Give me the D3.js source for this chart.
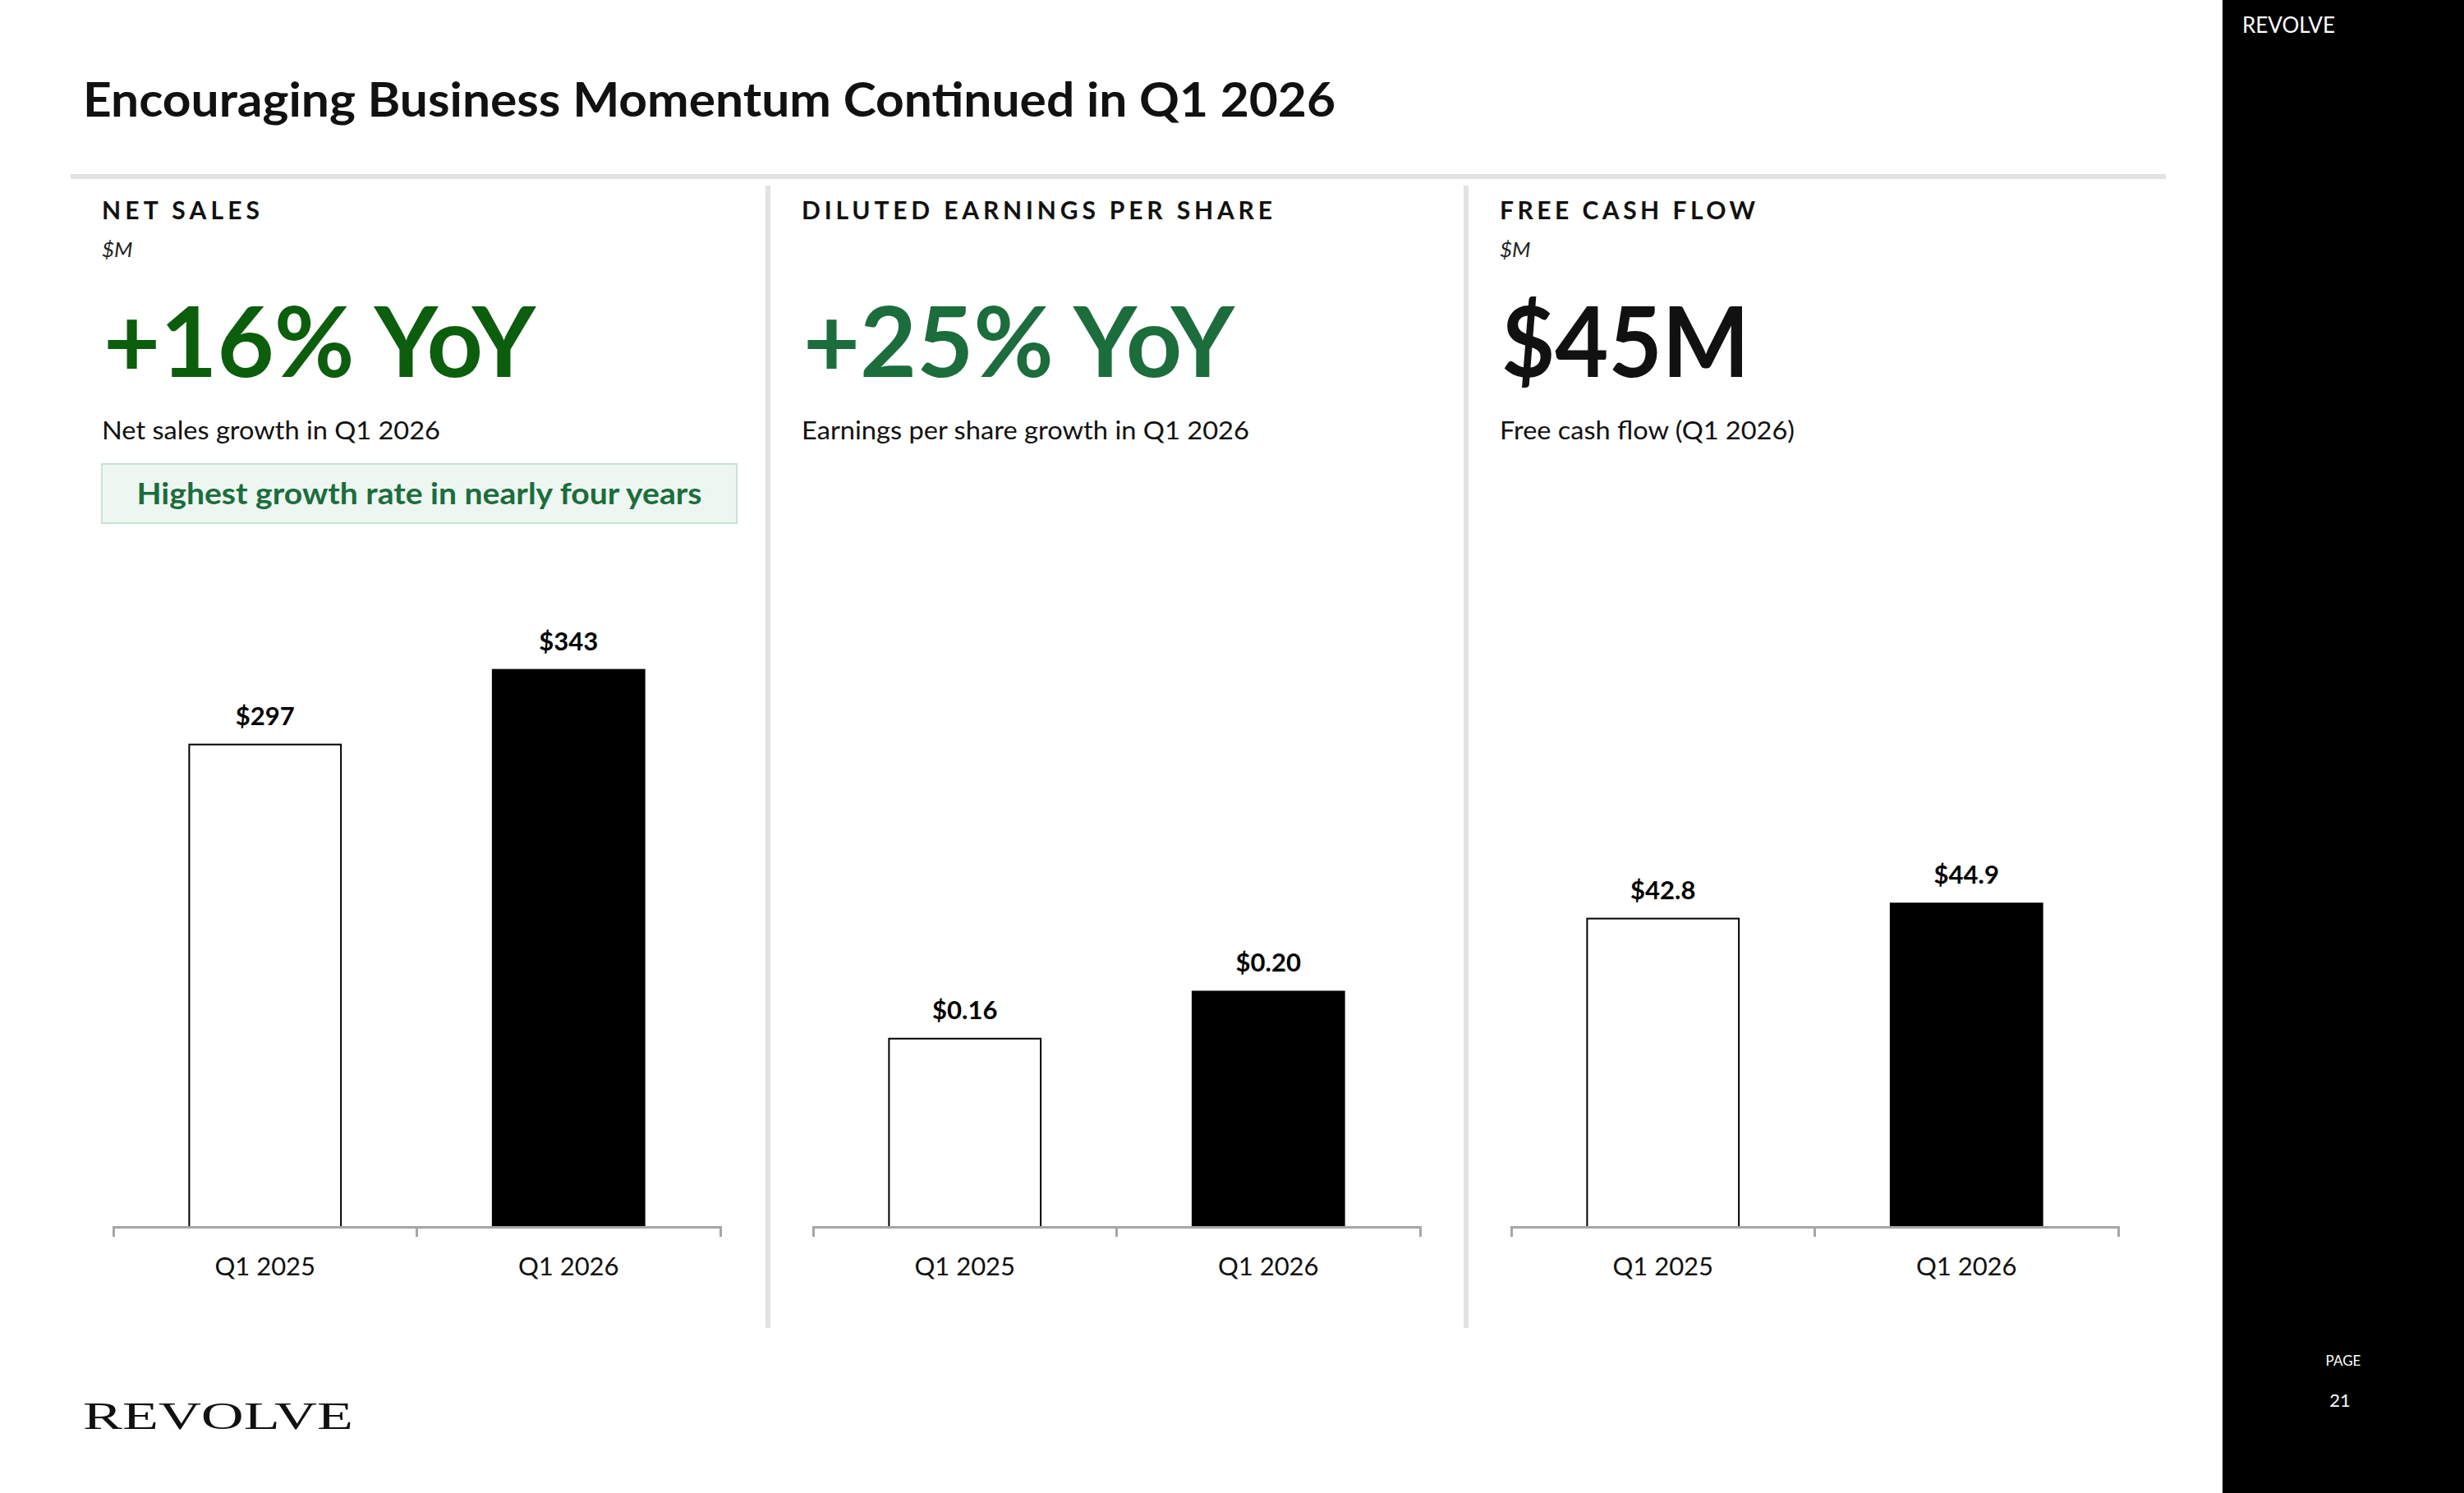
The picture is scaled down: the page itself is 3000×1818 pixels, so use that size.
<!DOCTYPE html>
<html>
<head>
<meta charset="utf-8">
<script src="https://cdn.jsdelivr.net/npm/d3@7"></script>
<style>
  body { margin: 0; background: #fff; }
  text { font-family: Lato, "Open Sans", sans-serif; }
</style>
</head>
<body>
<div id="chart-area"></div>
<script>

var width = 3000,
    height = 1818;

// data
var categories = ["Q1 2025", "Q1 2026"];
var netSales = [297, 343];
var dilutedEps = [0.16, 0.20];
var freeCashFlow = [42.8, 44.9];

var netSalesLabels = ["$297", "$343"];
var epsLabels = ["$0.16", "$0.20"];
var fcfLabels = ["$42.8", "$44.9"];

var panelTitles = ["NET SALES", "DILUTED EARNINGS PER SHARE", "FREE CASH FLOW"];
var panelUnits = ["$M", "", "$M"];
var headlines = ["+16% YoY", "+25% YoY", "$45M"];
var subtitles = ["Net sales growth in Q1 2026", "Earnings per share growth in Q1 2026", "Free cash flow (Q1 2026)"];
var yMax = [404.5, 0.5583, 91.2];   // axis maximum of each panel

var panels = [
  { values: netSales, labels: netSalesLabels },
  { values: dilutedEps, labels: epsLabels },
  { values: freeCashFlow, labels: fcfLabels }
];

var svg = d3.select("#chart-area").append("svg")
    .attr("width", width)
    .attr("height", height);

svg.append("rect").attr("width", width).attr("height", height).attr("fill", "#fff");

// right black strip
svg.append("rect")
    .attr("x", 2706).attr("y", 0)
    .attr("width", width - 2706).attr("height", height)
    .attr("fill", "#000");

svg.append("text").attr("x", 2730).attr("y", 40)
    .attr("fill", "#fff").style("font-size", "27px")
    .attr("textLength", 113).attr("lengthAdjust", "spacingAndGlyphs")
    .text("REVOLVE");

svg.append("text").attr("x", 2853).attr("y", 1663)
    .attr("fill", "#fff").attr("text-anchor", "middle").style("font-size", "17px")
    .text("PAGE");

svg.append("text").attr("x", 2849).attr("y", 1713)
    .attr("fill", "#fff").attr("text-anchor", "middle").style("font-size", "22px")
    .text("21");

// logo bottom left
svg.append("text").attr("x", 101).attr("y", 1740)
    .attr("fill", "#111")
    .attr("textLength", 329).attr("lengthAdjust", "spacingAndGlyphs")
    .style("font-family", "'Liberation Serif', 'DejaVu Serif', serif")
    .style("font-size", "46px")
    .text("REVOLVE");

// title
svg.append("text").attr("x", 101).attr("y", 142)
    .attr("fill", "#111")
    .attr("textLength", 1525).attr("lengthAdjust", "spacingAndGlyphs")
    .style("font-size", "58px").style("font-weight", "bold")
    .text("Encouraging Business Momentum Continued in Q1 2026");

// top rule
svg.append("rect")
    .attr("x", 86).attr("y", 212)
    .attr("width", 2637 - 86).attr("height", 6)
    .attr("fill", "#e2e2e2");

// vertical dividers
[935, 1785].forEach(function(x) {
  svg.append("rect")
      .attr("x", x - 3).attr("y", 226)
      .attr("width", 6).attr("height", 1617 - 226)
      .attr("fill", "#e2e2e2");
});

var panelX = [124, 976, 1826];
var titleWidths = [192, 573, 311];
var headWidths = [526, 525, 302];
var subWidths = [412, 545, 359];
var headColors = ["#0b5e0b", "#1b6e3c", "#111111"];

var baseline = 1494,
    plotTop = 694,
    axisWidth = 739;

panels.forEach(function(p, i) {
  var g = svg.append("g");
  var px = panelX[i];

  g.append("text").attr("x", px).attr("y", 267)
      .attr("fill", "#111")
      .attr("textLength", titleWidths[i]).attr("lengthAdjust", "spacing")
      .style("font-size", "30px").style("font-weight", "bold")
      .text(panelTitles[i]);

  if (panelUnits[i]) {
    g.append("text").attr("x", px).attr("y", 313)
        .attr("fill", "#222")
        .style("font-size", "26px").style("font-style", "italic")
        .text(panelUnits[i]);
  }

  g.append("text").attr("x", px + 2).attr("y", 459)
      .attr("fill", headColors[i])
      .attr("textLength", headWidths[i]).attr("lengthAdjust", "spacingAndGlyphs")
      .style("font-size", "118px").style("font-weight", "bold")
      .text(headlines[i]);

  g.append("text").attr("x", px).attr("y", 535)
      .attr("fill", "#111")
      .attr("textLength", subWidths[i]).attr("lengthAdjust", "spacingAndGlyphs")
      .style("font-size", "31px")
      .text(subtitles[i]);

  // scales
  var x0 = px + 14;
  var x = d3.scaleBand()
      .domain(categories)
      .range([x0, x0 + axisWidth])
      .paddingInner(0.5)
      .paddingOuter(0.25);

  var y = d3.scaleLinear()
      .domain([0, yMax[i]])
      .range([baseline, plotTop]);

  g.selectAll(".bar")
      .data(p.values)
      .enter()
      .append("rect")
      .attr("class", "bar")
      .attr("x", (d, j) => x(categories[j]))
      .attr("y", d => y(d))
      .attr("width", x.bandwidth())
      .attr("height", d => baseline - y(d))
      .attr("fill", (d, j) => j == 0 ? "#fff" : "#000")
      .attr("stroke", "#000")
      .attr("stroke-width", 2);

  g.selectAll(".val")
      .data(p.values)
      .enter()
      .append("text")
      .attr("class", "val")
      .attr("x", (d, j) => x(categories[j]) + x.bandwidth() / 2)
      .attr("y", d => y(d) - 24)
      .attr("text-anchor", "middle")
      .attr("fill", "#000")
      .style("font-size", "31px").style("font-weight", "bold")
      .text((d, j) => p.labels[j]);

  var axis = g.append("g")
      .attr("transform", "translate(0," + baseline + ")")
      .call(d3.axisBottom(x).tickSize(0).tickSizeOuter(12).tickPadding(37));

  axis.select(".domain")
      .attr("stroke", "#a6a6a6")
      .attr("stroke-width", 3);

  axis.selectAll("text")
      .attr("fill", "#111")
      .style("font-family", "Lato, 'Open Sans', sans-serif")
      .style("font-size", "31px");

  // divider tick between the two categories
  var mid = x0 + x.step() * (x.paddingOuter() + 1) - x.step() * x.paddingInner() / 2;
  axis.append("line")
      .attr("x1", mid).attr("x2", mid)
      .attr("y1", 0).attr("y2", 12)
      .attr("stroke", "#a6a6a6")
      .attr("stroke-width", 3);
});

// highlight box under net sales
svg.append("rect")
    .attr("x", 124).attr("y", 565)
    .attr("width", 897 - 124).attr("height", 637 - 565)
    .attr("fill", "#eef6f1")
    .attr("stroke", "#c9e3d3")
    .attr("stroke-width", 2);

svg.append("text")
    .attr("x", (124 + 897) / 2).attr("y", 614)
    .attr("text-anchor", "middle")
    .attr("fill", "#1b6e3c")
    .attr("textLength", 688).attr("lengthAdjust", "spacingAndGlyphs")
    .style("font-size", "37px").style("font-weight", "bold")
    .text("Highest growth rate in nearly four years");

</script>
</body>
</html>
